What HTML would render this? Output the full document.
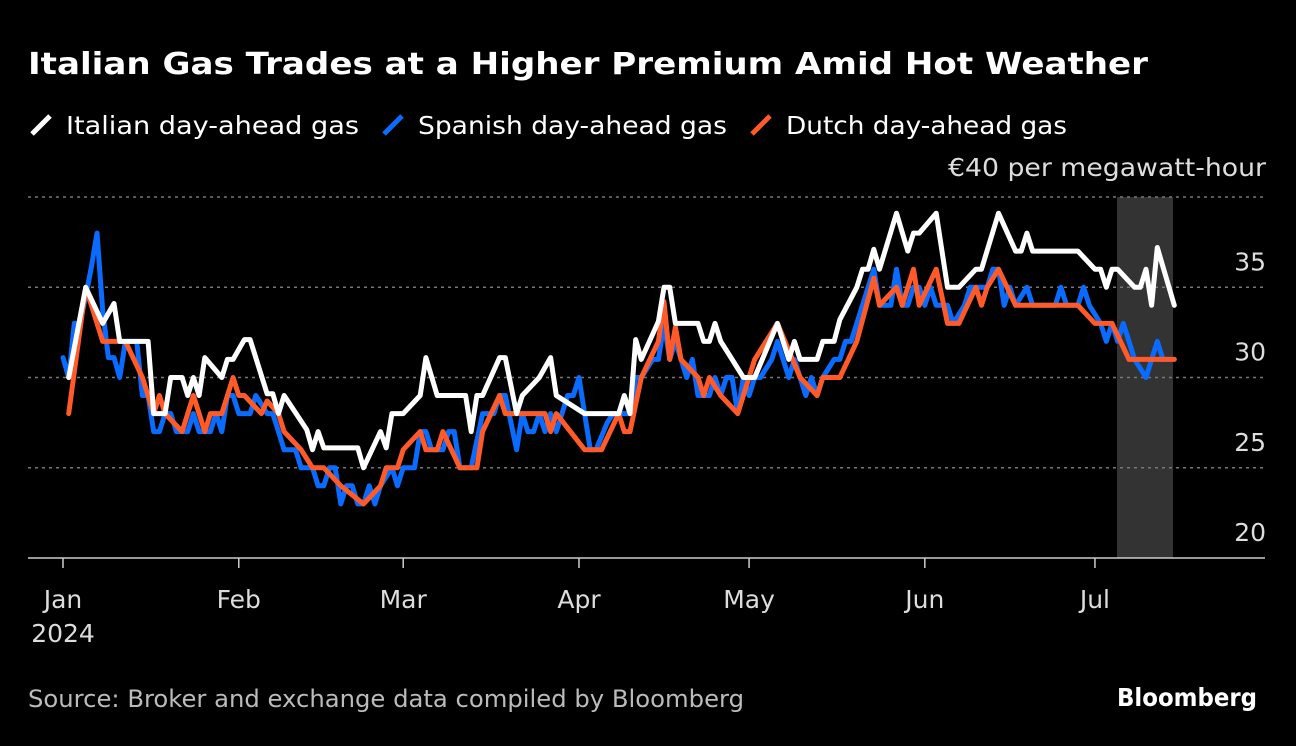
<!DOCTYPE html>
<html><head><meta charset="utf-8"><style>
html,body{margin:0;padding:0;background:#000;}
body{width:1296px;height:742px;overflow:hidden;font-family:"DejaVu Sans","Liberation Sans",sans-serif;}
svg text{font-family:"DejaVu Sans","Liberation Sans",sans-serif;}
</style></head><body>
<svg id="chart" width="1296" height="742" viewBox="0 0 1296 742" xmlns="http://www.w3.org/2000/svg">
<rect width="1296" height="742" fill="#000"/>
<text x="28" y="74" fill="#fff" font-size="30" font-weight="bold" textLength="1120" lengthAdjust="spacingAndGlyphs">Italian Gas Trades at a Higher Premium Amid Hot Weather</text>
<g font-size="25" fill="#fff">
 <g><line x1="32" y1="134" x2="50" y2="116" stroke="#fff" stroke-width="5"/><text x="66" y="134" fill="#fff" textLength="293" lengthAdjust="spacingAndGlyphs">Italian day-ahead gas</text></g>
 <g><line x1="384" y1="134" x2="402" y2="116" stroke="#0a6cff" stroke-width="5"/><text x="418" y="134" fill="#fff" textLength="309" lengthAdjust="spacingAndGlyphs">Spanish day-ahead gas</text></g>
 <g><line x1="752" y1="134" x2="770" y2="116" stroke="#ff5a28" stroke-width="5"/><text x="786" y="134" fill="#fff" textLength="281" lengthAdjust="spacingAndGlyphs">Dutch day-ahead gas</text></g>
</g>
<text x="948" y="176" fill="#ddd" font-size="25" textLength="318" lengthAdjust="spacingAndGlyphs">€40 per megawatt-hour</text>
<rect x="1117" y="197" width="56" height="361" fill="#333"/>
<g id="grid"></g>
<g id="series"></g>
<g id="xaxis"></g>
<text x="28" y="707" fill="#bbb" font-size="24" textLength="716" lengthAdjust="spacingAndGlyphs">Source: Broker and exchange data compiled by Bloomberg</text>
<text x="1117" y="706" fill="#fff" font-size="25" font-weight="bold" textLength="140" lengthAdjust="spacingAndGlyphs" font-family="Liberation Sans, sans-serif">Bloomberg</text>
</svg>
<script>
const yTicks=[20,25,30,35,40];
const monthLabels=["Jan","Feb","Mar","Apr","May","Jun","Jul"];
const monthDays=[0,31,60,91,121,152,182];
const italianDays=[1,4,7,9,10,15,16,18,19,21,22,23,24,25,28,29,30,32,33,36,37,38,39,43,44,45,46,52,53,56,57,58,60,63,64,66,71,72,73,74,77,78,80,81,84,86,87,92,98,99,100,101,102,105,106,107,108,112,113,114,115,116,118,120,122,126,128,129,130,133,134,136,137,140,141,142,143,144,147,149,150,151,154,156,158,161,162,165,168,169,170,171,179,182,183,184,185,186,189,190,191,192,193,196];
const italianVals=[30,35,33,34.1,32,32,28,28,30,30,29,30,29,31.1,30,31,31,32.1,32.1,29.1,29.1,28,29,27.1,26,27,26.1,26.1,25,27,26.1,28,28,29,31.1,29,29,27,29,29,31.1,31.1,28,29,30,31.1,29,28,28,29,28,32.1,31,33.1,35,35,33,33,32,32,33,32,31,30,30,33,31,32,31,31,32,32,33.2,35,36,36,37.1,36,39.1,37,38,38,39.1,35,35,36,36,39.1,37,37,38,37,37,36,36,35,36,36,35,35,36,34,37.2,34];
const spanishDays=[0,1,2,3,4,5,6,7,8,9,10,11,13,14,15,16,17,18,19,20,22,23,24,26,27,28,29,30,31,33,34,36,37,38,39,41,42,44,45,46,47,48,49,50,51,52,53,54,55,56,58,59,60,62,63,64,65,67,68,69,70,72,74,76,77,78,80,81,82,83,84,85,86,87,88,89,90,91,92,93,94,96,97,98,100,101,102,104,105,106,107,108,109,110,111,112,114,115,116,117,118,119,120,121,122,123,125,126,127,128,129,130,131,132,133,134,136,137,138,139,141,143,144,146,147,148,149,150,151,152,153,154,156,157,159,160,163,164,165,166,167,168,170,171,175,176,177,179,180,181,183,184,185,186,187,188,189,191,192,193,194,196];
const spanishVals=[31.1,30,33,33,34.5,36.1,38,33.7,31.1,31.1,30,32,32,29,29,27,27,28,28,27,27,28,27,27,28,27,29,29,28,28,29,28,28,27,26,26,25,25,24,24,25,25,23,24,24,23,23,24,23,24,25,24,25,25,27,27,26,26,27,27,25,25,28,28,29,29,26,28,27,27,28,27,28,27,28,29,29,30,28,26,26,27.5,28,28,28,30,30,31,31,33,31,32,31,30,31,29,29,30,29,30,30,28,30,29,30,30,31,32,31,30,31,30,29,30,29,30,31,31,32,32,34,36,34,34,36,34,34,35,35,34,35,34,34,33,34,35,35,36,36,34,35,34,35,34,34,35,34,34,35,34,33,32,33,32,33,32,31,30,31,32,31,31];
const dutchDays=[1,4,7,11,14,16,17,18,21,23,25,26,28,30,31,32,35,36,38,39,42,44,46,49,53,56,57,59,60,63,64,66,67,70,73,74,77,78,80,85,86,87,92,95,98,99,100,102,105,106,107,108,109,112,113,114,116,119,122,126,130,133,134,135,137,140,143,144,147,148,150,151,154,156,158,161,162,163,165,168,172,175,179,182,185,188,192,196];
const dutchVals=[28,35,32,32,30,28,29,28,27,29,27,28,28,30,29,29,28,28.7,28,27,26,25,25,24,23,24,25,25,26,27,26,26,27,25,25,27,29,28,28,28,27,28,26,26,28,27,27,30,32,34.2,31,32.8,31,30,29,30,29,28,31,33,30,29,30,30,30,32,35.5,34,35,34,36,34,36,33,33,35,34,35,36,34,34,34,34,33,33,31,31,31];

const X0=63, PXD=5.67, Y20=558, PXU=18.05;
const xOf=d=>X0+d*PXD;
const yOf=v=>Y20-(v-20)*PXU;
const NS="http://www.w3.org/2000/svg";
function mk(tag,attrs,parent){const e=document.createElementNS(NS,tag);for(const k in attrs)e.setAttribute(k,attrs[k]);parent.appendChild(e);return e;}

const grid=document.getElementById('grid');
yTicks.forEach(t=>{
  if(t>20){
    const l=mk('line',{x1:28,x2:1265,y1:yOf(t),y2:yOf(t),stroke:'#777','stroke-width':1.5,'stroke-dasharray':'3,4'},grid);
    
    
  }
  if(t<40){
    const tx=mk('text',{x:1266,y:yOf(t)-17,fill:'#ddd','font-size':25,'text-anchor':'end'},grid);
    tx.textContent=t;
    
    
  }
});

const ser=document.getElementById('series');
function drawSeries(days,vals,color,name){
  const pts=days.map((d,i)=>xOf(d).toFixed(1)+','+yOf(vals[i]).toFixed(1)).join(' ');
  const p=mk('polyline',{points:pts,fill:'none',stroke:color,'stroke-width':5,'stroke-linejoin':'round','stroke-linecap':'round'},ser);
  
  
}
drawSeries(spanishDays,spanishVals,'#0a6cff','spanish-gas-line');
drawSeries(dutchDays,dutchVals,'#ff5a28','dutch-gas-line');
drawSeries(italianDays,italianVals,'#ffffff','italian-gas-line');

const xa=document.getElementById('xaxis');
const base=mk('line',{x1:28,x2:1265,y1:558,y2:558,stroke:'#ccc','stroke-width':1.5},xa);


monthDays.forEach((d,i)=>{
  const tk=mk('line',{x1:xOf(d),x2:xOf(d),y1:558,y2:568,stroke:'#ccc','stroke-width':1.5},xa);
  
  
  const tx=mk('text',{x:xOf(d),y:608,fill:'#ddd','font-size':25,'text-anchor':'middle'},xa);
  tx.textContent=monthLabels[i];
  
  
});
const yr=mk('text',{x:xOf(0),y:642,fill:'#ddd','font-size':25,'text-anchor':'middle'},xa);
yr.textContent='2024';


</script>
</body></html>
